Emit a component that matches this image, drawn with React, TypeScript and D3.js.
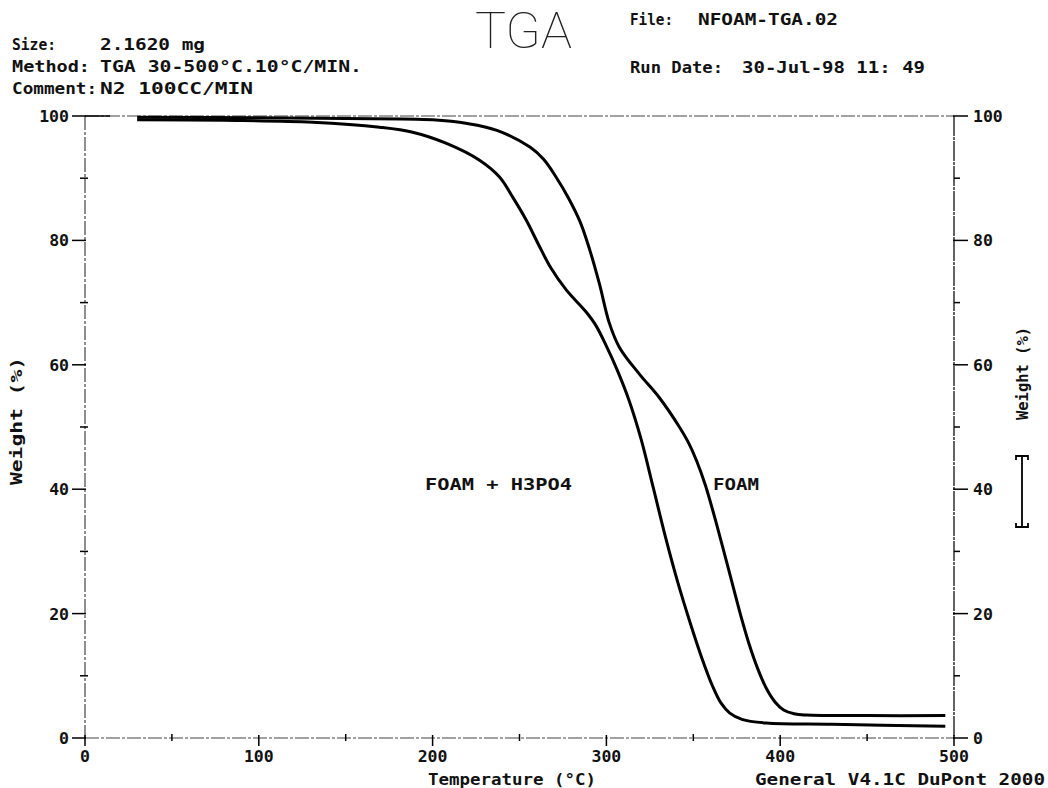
import React from "react";
import * as d3 from "d3";

const foamT = [30, 100, 150, 200, 220, 237, 256, 264, 271, 278, 285, 290.5, 296, 301.7, 307.5, 319, 330.5, 342, 347, 352, 357, 362, 367, 372, 377, 382, 387, 392, 397, 402, 408, 415, 450, 495];
const foamW = [99.8, 99.7, 99.6, 99.4, 98.8, 97.7, 95.0, 93.0, 90.2, 86.9, 82.9, 78.4, 73.0, 66.7, 62.8, 58.5, 54.7, 50.0, 47.6, 44.5, 40.6, 35.8, 30.6, 25.3, 20.0, 15.2, 11.2, 8.0, 5.8, 4.5, 3.9, 3.7, 3.6, 3.6];

const acidT = [30, 80, 131, 169.5, 188.5, 208, 227, 238.5, 246, 254, 261, 268, 277, 288, 294, 300, 306, 313, 320, 327, 334, 341, 348, 355, 361, 366, 371, 378, 392, 430, 495];
const acidW = [99.4, 99.3, 99.0, 98.2, 97.4, 95.6, 92.9, 90.2, 87.0, 83.2, 79.3, 75.6, 72.0, 68.6, 66.3, 63.0, 59.3, 54.3, 48.0, 40.2, 32.3, 25.1, 18.7, 12.8, 8.4, 5.6, 4.0, 3.0, 2.4, 2.2, 1.9];

const xMajor = [0, 100, 200, 300, 400, 500];
const xMinor = [50, 150, 250, 350, 450];
const yMajor = [0, 20, 40, 60, 80, 100];
const yMinor = [10, 30, 50, 70, 90];

const FONT = "'DejaVu Sans Mono', monospace";

export default function App() {
  const W = 1048, H = 788;
  const x = d3.scaleLinear().domain([0, 500]).range([85, 954]);
  const y = d3.scaleLinear().domain([0, 100]).range([738, 116]);
  const line = d3.line<[number, number]>().x(d => x(d[0])).y(d => y(d[1])).curve(d3.curveCatmullRom.alpha(0.5));
  const foam = line(foamT.map((t, i) => [t, foamW[i]] as [number, number])) || "";
  const acid = line(acidT.map((t, i) => [t, acidW[i]] as [number, number])) || "";
  const x0 = x(0), x1 = x(500), y0 = y(0), y1 = y(100);
  const hdr = { fontFamily: FONT, fontWeight: 700, fontSize: 16, fill: "#111", lengthAdjust: "spacingAndGlyphs" } as const;
  const tk = { fontFamily: FONT, fontWeight: 700, fontSize: 16.5, fill: "#111" } as const;
  const axisStroke = "#444";
  return (
    <svg width={W} height={H} style={{ position: "absolute", left: 0, top: 0, background: "#fff" }}>
      <rect width={W} height={H} fill="#fff" />
      {/* header */}
      <text x={475} y={48} textLength={97} lengthAdjust="spacingAndGlyphs" style={{ fontFamily: "Roboto, 'Noto Sans', sans-serif", fontWeight: 100, fontSize: 50, fill: "#222" }}>TGA</text>
      <text x={12} y={50} {...hdr} textLength={44}>Size:</text>
      <text x={100} y={50} {...hdr} textLength={105}>2.1620 mg</text>
      <text x={12} y={72} {...hdr} textLength={78}>Method:</text>
      <text x={100} y={72} {...hdr} textLength={262}>TGA 30-500°C.10°C/MIN.</text>
      <text x={12} y={94} {...hdr} textLength={85}>Comment:</text>
      <text x={100} y={94} {...hdr} textLength={153}>N2 100CC/MIN</text>
      <text x={630} y={25} {...hdr} textLength={43}>File:</text>
      <text x={698} y={25} {...hdr} textLength={140}>NFOAM-TGA.02</text>
      <text x={630} y={73} {...hdr} textLength={93}>Run Date:</text>
      <text x={742} y={73} {...hdr} textLength={183}>30-Jul-98 11: 49</text>

      {/* frame lines */}
      <line x1={x0} x2={x1} y1={y1} y2={y1} stroke={axisStroke} strokeWidth={1} strokeDasharray="14 2 3 2" />
      <line x1={x0} x2={x0 + 25} y1={y1} y2={y1} stroke="#000" strokeWidth={1.5} />
      <line x1={x0} x2={x1} y1={y0} y2={y0} stroke={axisStroke} strokeWidth={1.2} strokeDasharray="14 2 3 2" />
      <line x1={x0} x2={x0} y1={y1} y2={y0} stroke={axisStroke} strokeWidth={1.2} strokeDasharray="14 2 3 2" />
      <line x1={x1} x2={x1} y1={y1} y2={y0} stroke="#222" strokeWidth={1.4} strokeDasharray="20 1 3 1" />

      {/* left axis ticks */}
      {yMajor.map(v => (
        <g key={"ly" + v}>
          <line x1={x0 - 13} x2={x0 + 1} y1={y(v)} y2={y(v)} stroke="#000" strokeWidth={1.5} />
          <text x={x0 - 16} y={y(v) + 6} textAnchor="end" {...tk}>{v}</text>
        </g>
      ))}
      {yMinor.map(v => (
        <line key={"lym" + v} x1={x0 - 5} x2={x0 + 3} y1={y(v)} y2={y(v)} stroke="#000" strokeWidth={1.5} />
      ))}
      {/* right axis ticks */}
      {yMajor.map(v => (
        <g key={"ry" + v}>
          <line x1={x1 - 1} x2={x1 + 14} y1={y(v)} y2={y(v)} stroke="#000" strokeWidth={1.5} />
          <text x={x1 + 19} y={y(v) + 6} textAnchor="start" {...tk}>{v}</text>
        </g>
      ))}
      {yMinor.map(v => (
        <line key={"rym" + v} x1={x1} x2={x1 + 6} y1={y(v)} y2={y(v)} stroke="#000" strokeWidth={1.5} />
      ))}
      {/* bottom axis ticks */}
      {xMajor.map(v => (
        <g key={"bx" + v}>
          <line x1={x(v)} x2={x(v)} y1={y0 - 3} y2={y0 + 8} stroke="#000" strokeWidth={1.5} />
          <text x={x(v)} y={762} textAnchor="middle" {...tk}>{v}</text>
        </g>
      ))}
      {xMinor.map(v => (
        <line key={"bxm" + v} x1={x(v)} x2={x(v)} y1={y0 - 4} y2={y0 + 3} stroke="#000" strokeWidth={1.5} />
      ))}

      {/* axis titles */}
      <text x={428} y={785} {...hdr} textLength={168}>Temperature (°C)</text>
      <text x={755} y={785} {...hdr} textLength={290}>General V4.1C DuPont 2000</text>
      <text transform={`translate(22,485) rotate(-90)`} {...hdr} textLength={128}>Weight  (%)</text>
      <text transform={`translate(1028,420) rotate(-90)`} {...hdr} textLength={93}>Weight  (%)</text>
      <g stroke="#000" strokeWidth={1.8} fill="none">
        <path d="M1016,460 L1016,456 L1028,456 L1028,460 M1022,456 L1022,527 M1016,523 L1016,527 L1028,527 L1028,523" />
      </g>

      {/* curves */}
      <path d={acid} fill="none" stroke="#000" strokeWidth={3} />
      <path d={foam} fill="none" stroke="#000" strokeWidth={3} />

      {/* curve labels */}
      <text x={425} y={490} {...hdr} textLength={147}>FOAM + H3PO4</text>
      <text x={713} y={490} {...hdr} textLength={46}>FOAM</text>
    </svg>
  );
}
